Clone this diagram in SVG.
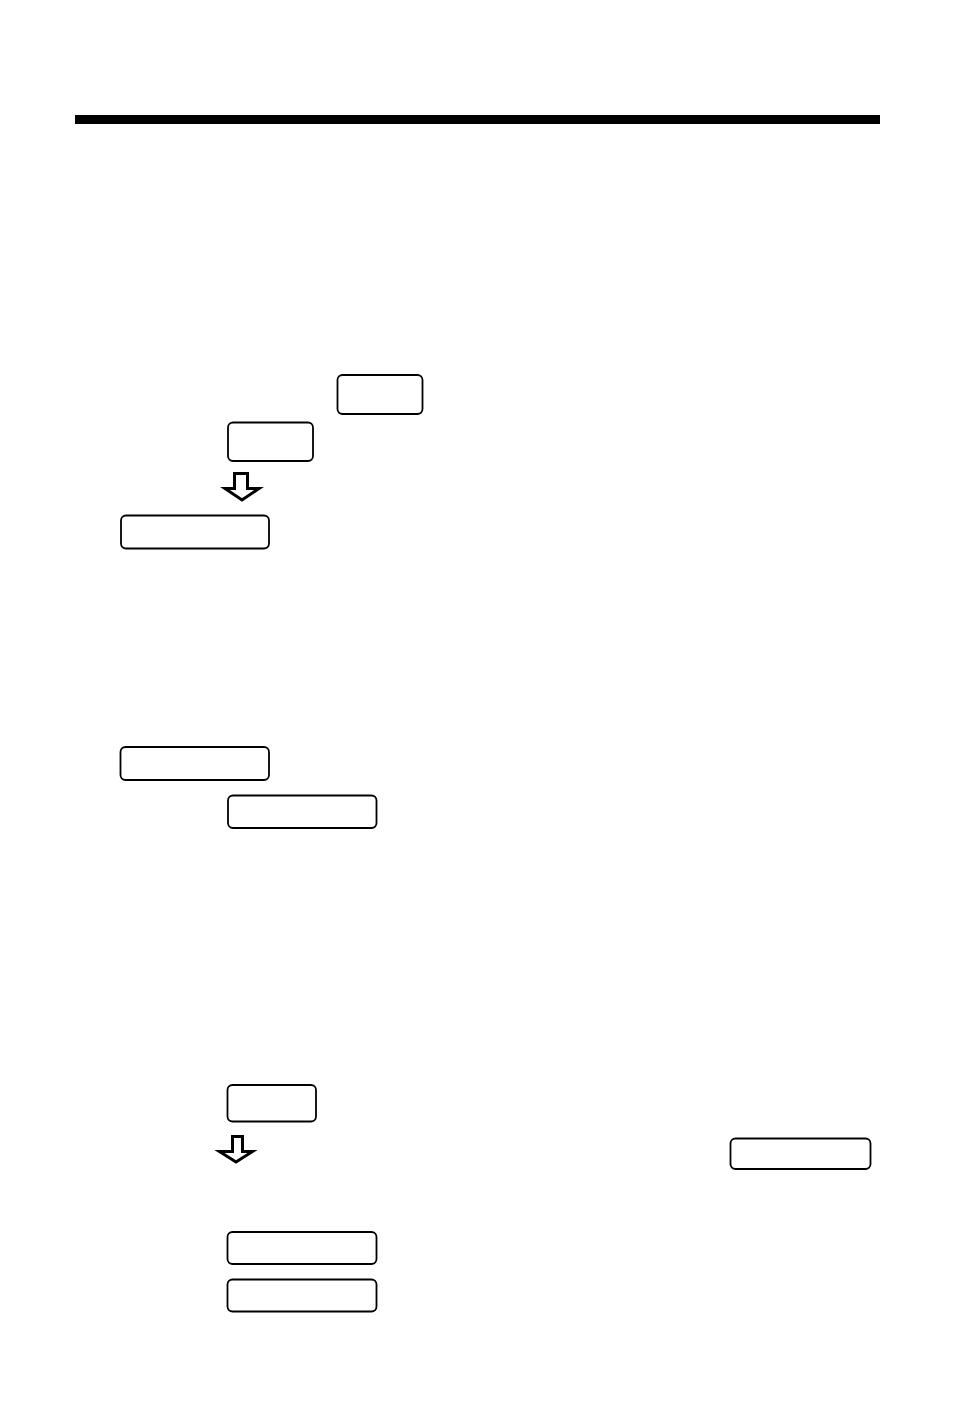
<svg xmlns="http://www.w3.org/2000/svg" width="954" height="1412" viewBox="0 0 954 1412">
<style>
.key{fill:#fff;stroke:#000;stroke-width:1.8}
.arr{fill:#fff;stroke:#000;stroke-width:3;stroke-linejoin:miter}
</style>
<rect width="954" height="1412" fill="#fff"/>
<rect id="titlebar" x="75" y="115" width="805" height="9" fill="#000"/>
<g id="node1"><rect class="key" x="337.5" y="375" width="85" height="39" rx="5"/></g>
<g id="node2"><rect class="key" x="228" y="422.5" width="85" height="38.5" rx="5"/></g>
<g id="node3"><rect class="key" x="121" y="515.5" width="148" height="33" rx="5"/></g>
<g id="node4"><rect class="key" x="120.5" y="747" width="148.5" height="33" rx="5"/></g>
<g id="node5"><rect class="key" x="228" y="795.5" width="148.5" height="32.5" rx="5"/></g>
<g id="node6"><rect class="key" x="227.5" y="1085" width="88.5" height="36.5" rx="5"/></g>
<g id="node7"><rect class="key" x="730.5" y="1138.5" width="140" height="30.5" rx="5"/></g>
<g id="node8"><rect class="key" x="227.5" y="1232" width="149" height="32" rx="5"/></g>
<g id="node9"><rect class="key" x="227.5" y="1279.5" width="149" height="32" rx="5"/></g>
<g id="connectors">
<path class="arr" d="M234.5,473.5 H247.5 V488.5 H259 L242,500 L225,488.5 H234.5 Z"/>
<path class="arr" d="M232.5,1136.5 H242.5 V1151.5 H252.5 L236,1162 L219.5,1151.5 H232.5 Z"/>
</g>
</svg>
